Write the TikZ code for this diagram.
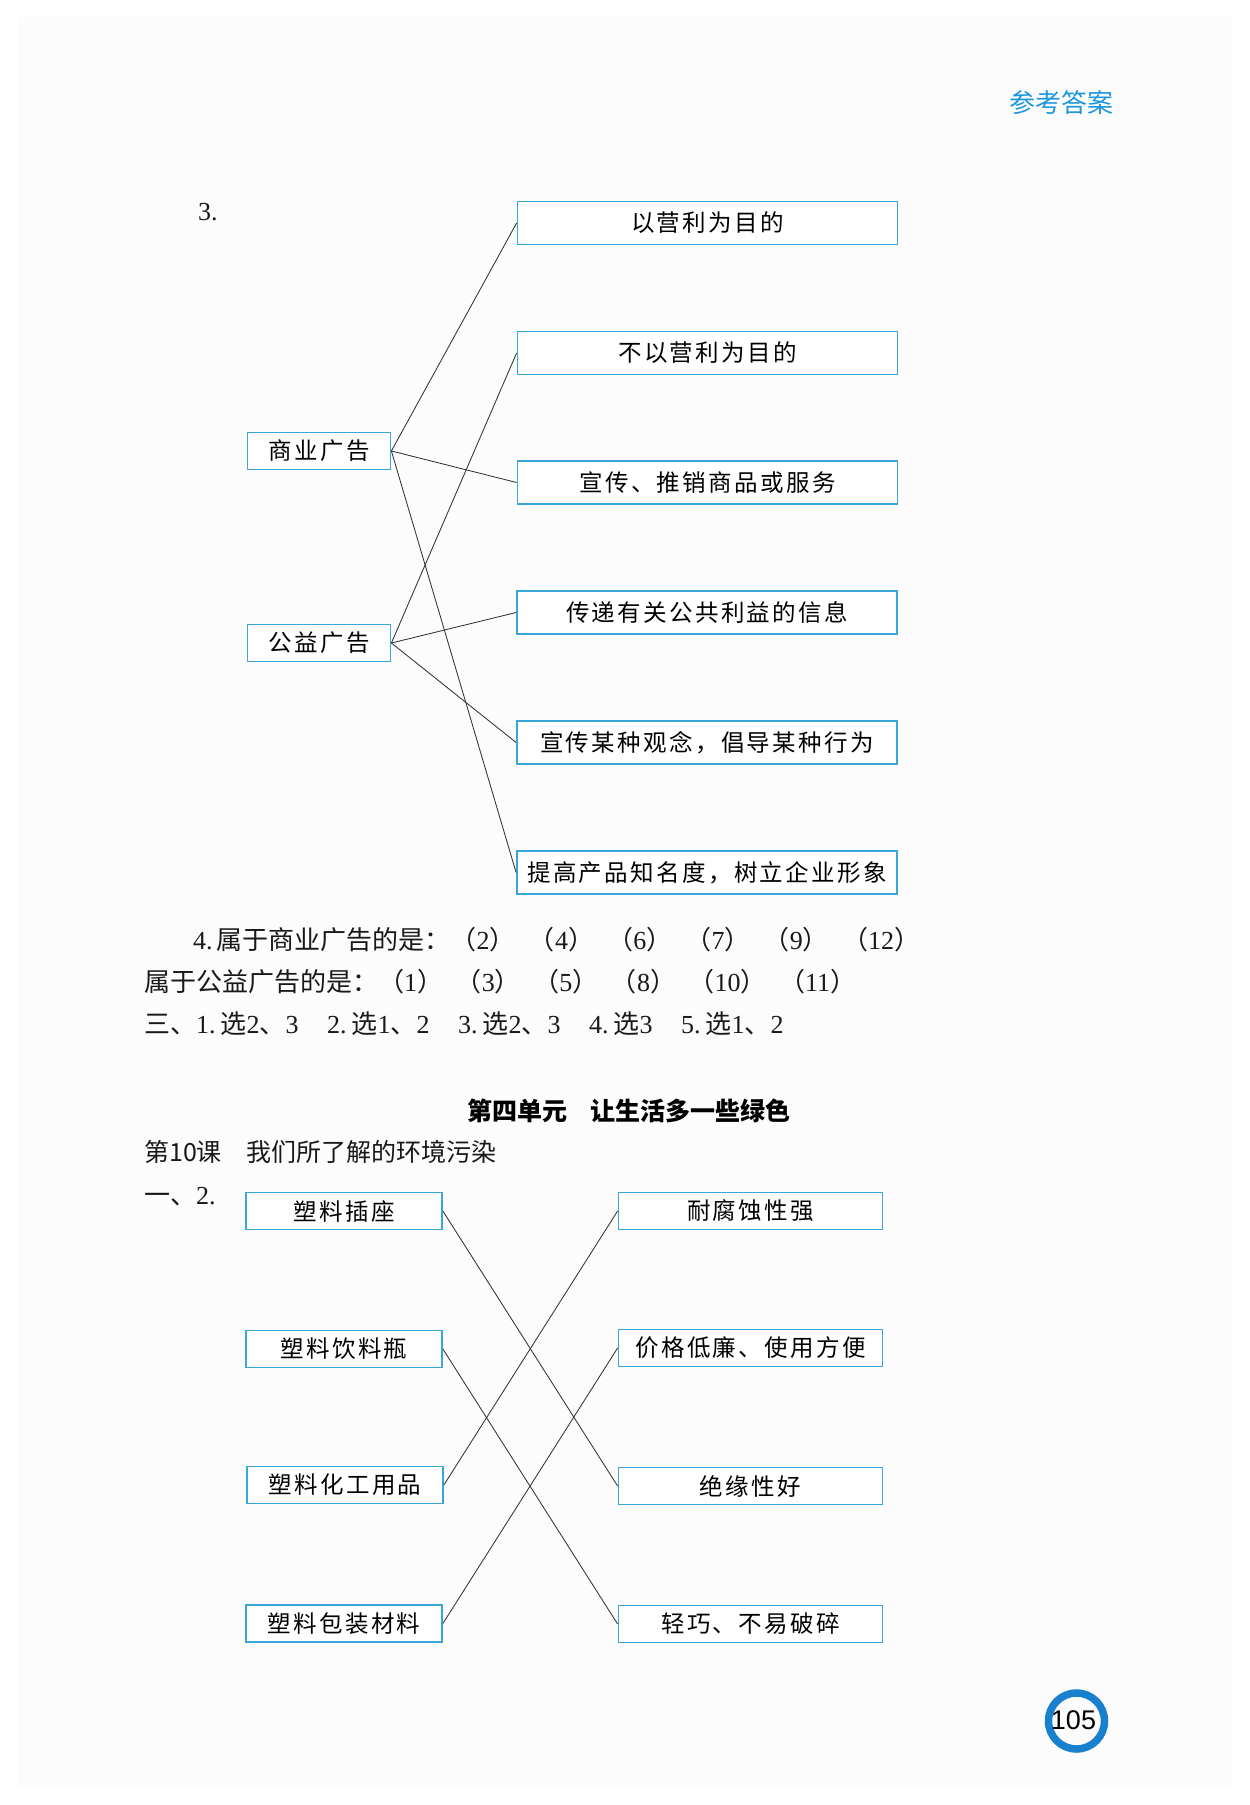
\documentclass[tikz,border=0pt]{standalone}
\usepackage{fontspec}
\setmainfont{Liberation Serif}
\newfontfamily\cjk{Noto Sans CJK SC}
\newfontfamily\cjksp{Noto Sans CJK SC}[LetterSpace=10]
\newfontfamily\arialf{Liberation Sans}
\definecolor{boxblue}{RGB}{56,166,214}
\definecolor{headblue}{RGB}{30,150,222}
\definecolor{ringblue}{RGB}{24,128,205}
\definecolor{pagebg}{RGB}{252,252,252}
\newcommand{\pgp}[1]{{\cjk（}#1{\cjk）}}
\begin{document}
\begin{tikzpicture}[x=1pt,y=-1pt,
  rbox/.style={draw=boxblue, line width=1.8pt, fill=white, minimum width=380pt, minimum height=43pt, inner sep=0pt, font=\cjksp\fontsize{23.5}{26}\selectfont},
  lbox/.style={draw=boxblue, line width=1.8pt, fill=white, minimum width=143pt, minimum height=37pt, inner sep=0pt, font=\cjksp\fontsize{23.5}{26}\selectfont},
  pbox/.style={draw=boxblue, line width=1.8pt, fill=white, minimum width=196pt, minimum height=37pt, inner sep=0pt, font=\cjksp\fontsize{23.5}{26}\selectfont},
  qbox/.style={draw=boxblue, line width=1.8pt, fill=white, minimum width=264pt, minimum height=37pt, inner sep=0pt, font=\cjksp\fontsize{23.5}{26}\selectfont},
  link/.style={draw=black!80, line width=0.85pt},
  txt/.style={anchor=west, inner sep=0pt, text=black!90, font=\fontsize{26}{30}\selectfont}
]
\useasboundingbox (0,0) rectangle (1250,1805);
\fill[pagebg] (18,17) rectangle (1232,1788);

% header
\node[inner sep=0pt, text=headblue, font=\cjk\fontsize{26}{28}\selectfont] (hdr) at (1061,103) {参考答案};

% question 3
\node[txt] (q3) at (198,212) {3.};

\node[rbox] (a1) at (707.5,223) {以营利为目的};
\node[rbox] (a2) at (707.5,353) {不以营利为目的};
\node[rbox] (a3) at (707.5,482.5) {宣传、推销商品或服务};
\node[rbox] (a4) at (707,612.5) {传递有关公共利益的信息};
\node[rbox] (a5) at (707,742.5) {宣传某种观念，倡导某种行为};
\node[rbox] (a6) at (707,872.5) {提高产品知名度，树立企业形象};

\node[lbox] (cm) at (319,451) {商业广告};
\node[lbox] (gy) at (319,643) {公益广告};

\draw[link] (cm.east) -- (a1.west);
\draw[link] (cm.east) -- (a3.west);
\draw[link] (cm.east) -- (a6.west);
\draw[link] (gy.east) -- (a2.west);
\draw[link] (gy.east) -- (a4.west);
\draw[link] (gy.east) -- (a5.west);

% answers
\node[txt] (ln1) at (193,940) {4.\hspace{4pt}{\cjk 属于商业广告的是：}\pgp{2}\hspace{13.3pt}\pgp{4}\hspace{13.3pt}\pgp{6}\hspace{13.3pt}\pgp{7}\hspace{13.3pt}\pgp{9}\hspace{13.3pt}\pgp{12}};
\node[txt] (ln2) at (144,982) {{\cjk 属于公益广告的是：}\pgp{1}\hspace{12.6pt}\pgp{3}\hspace{12.6pt}\pgp{5}\hspace{12.6pt}\pgp{8}\hspace{12.6pt}\pgp{10}\hspace{12.6pt}\pgp{11}};
\node[txt] (ln3) at (144,1024) {{\cjk 三、}1.\hspace{5pt}{\cjk 选}2{\cjk 、}3\hspace{28.5pt}2.\hspace{5pt}{\cjk 选}1{\cjk 、}2\hspace{28.5pt}3.\hspace{5pt}{\cjk 选}2{\cjk 、}3\hspace{28.5pt}4.\hspace{5pt}{\cjk 选}3\hspace{28.5pt}5.\hspace{5pt}{\cjk 选}1{\cjk 、}2};

% unit heading
\node[inner sep=0pt, text=black, font=\cjk\bfseries\fontsize{25}{28}\selectfont] (unit) at (629,1111) {第四单元\hspace{0.95em}让生活多一些绿色};
\node[txt, font=\cjk\fontsize{25}{28}\selectfont] (lesson) at (144,1152) {第10课　我们所了解的环境污染};
\node[txt] (q12) at (144,1197) {{\cjk 一、}2.};

% matching 2
\node[pbox] (b1) at (344,1211) {塑料插座};
\node[pbox] (b2) at (344,1349) {塑料饮料瓶};
\node[pbox] (b3) at (345,1485) {塑料化工用品};
\node[pbox] (b4) at (344,1623.5) {塑料包装材料};

\node[qbox] (r1) at (750.5,1211) {耐腐蚀性强};
\node[qbox] (r2) at (750.5,1348) {价格低廉、使用方便};
\node[qbox] (r3) at (750.5,1486) {绝缘性好};
\node[qbox] (r4) at (750.5,1624) {轻巧、不易破碎};

\draw[link] (b1.east) -- (r3.west);
\draw[link] (b2.east) -- (r4.west);
\draw[link] (b3.east) -- (r1.west);
\draw[link] (b4.east) -- (r2.west);

% page number
\node[circle, draw=ringblue, line width=7.5pt, minimum size=56pt, inner sep=0pt] (ring) at (1076.5,1721) {};
\node[inner sep=0pt, font=\arialf\fontsize{27}{30}\selectfont] (pnum) at (1073.5,1720) {105};
\end{tikzpicture}
\end{document}
